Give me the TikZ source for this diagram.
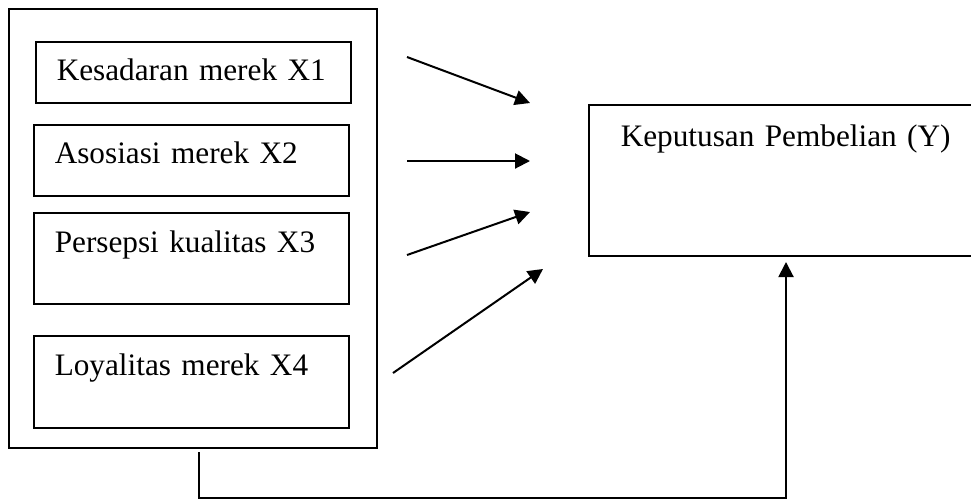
\documentclass[tikz,border=0pt]{standalone}
\usepackage{fontspec}
\setmainfont{Liberation Serif}
\usetikzlibrary{arrows.meta}

\tikzset{
  varbox/.style={draw, line width=0.6pt, anchor=north west, inner ysep=0pt,
    inner xsep=8.4pt, align=left, font=\fontsize{12.5}{15}\selectfont},
  linkarrow/.style={line width=0.8pt, -{Triangle[length=6pt,width=6pt]}}
}

\begin{document}
\begin{tikzpicture}[x=0.4pt, y=-0.4pt]

  \useasboundingbox (0,0) rectangle (971,501);
  \clip (0,0) rectangle (971,501);

  \node[draw, line width=0.6pt, anchor=north west, inner sep=0pt,
    minimum width=147.2pt, minimum height=175.6pt] (group) at (8,8) {};

  \node[varbox, text width=109.2pt, text height=15.6pt, text depth=8.8pt] (kesadaran) at (35,41) {Kesadaran merek X1};
  \node[varbox, text width=109.2pt, text height=15.6pt, text depth=12.8pt] (asosiasi) at (33,124) {Asosiasi merek X2};
  \node[varbox, text width=109.2pt, text height=16pt, text depth=20.4pt] (persepsi) at (33,212) {Persepsi kualitas X3};
  \node[varbox, text width=109.2pt, text height=16pt, text depth=20.8pt] (loyalitas) at (33,335) {Loyalitas merek X4};

  \node[varbox, inner xsep=12.8pt, text width=139.2pt, text height=16.8pt, text depth=43.6pt] (keputusan) at (588,104) {Keputusan Pembelian (Y)};

  \coordinate (s1) at (407,57);  \coordinate (t1) at (530,103);
  \coordinate (s2) at (407,161); \coordinate (t2) at (530,161);
  \coordinate (s3) at (407,255); \coordinate (t3) at (530,212);
  \coordinate (s4) at (393,373); \coordinate (t4) at (543,269);
  \draw[linkarrow] (s1) -- (t1);
  \draw[linkarrow] (s2) -- (t2);
  \draw[linkarrow] (s3) -- (t3);
  \draw[linkarrow] (s4) -- (t4);

  \coordinate (fb) at (199,452);
  \coordinate (fe) at (786,262);
  \draw[linkarrow] (fb) -- (199,498) -| (fe);

\end{tikzpicture}
\end{document}
